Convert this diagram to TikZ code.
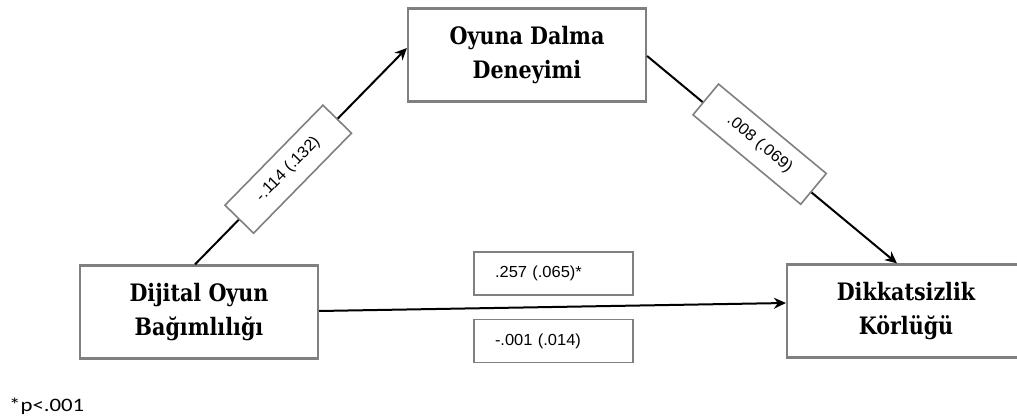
\documentclass[tikz,border=0pt]{standalone}
\usepackage{fontspec}
\usetikzlibrary{arrows.meta}
\newfontfamily\boxfont[FakeStretch=0.86]{DejaVu Serif}
\newfontfamily\labfont[FakeStretch=1.03]{Liberation Sans}
\newfontfamily\notefont[FakeStretch=1.2]{Carlito}
\definecolor{bordergray}{HTML}{808080}
\tikzset{
  varbox/.style={draw=bordergray, line width=2.2pt, fill=white, minimum width=238pt,
    minimum height=93pt, align=center, inner sep=0pt,
    font=\boxfont\bfseries\fontsize{24}{34}\selectfont},
  coefbox/.style={draw=bordergray, line width=1.6pt, fill=white, minimum width=140pt,
    minimum height=40pt, inner sep=0pt, font=\labfont\fontsize{16}{18}\selectfont},
  hbox/.style={coefbox, minimum width=159pt, minimum height=43pt, text width=117pt, align=left},
  path/.style={draw=black, line width=2pt, -{Stealth[length=12pt,width=11pt]}}
}
\begin{document}
\begin{tikzpicture}[x=1pt,y=-1pt]
\useasboundingbox (0,0) rectangle (1017,419);
\clip (0,0) rectangle (1017,419);
\node[varbox] (T) at (527,55) {Oyuna Dalma\\Deneyimi};
\node[varbox] (L) at (199,312) {Dijital Oyun\\Bağımlılığı};
\node[varbox] (R) at (906,311) {Dikkatsizlik\\Körlüğü};
\draw[path] ([xshift=-4pt]L.north) -- node[coefbox, sloped, pos=0.44] (c1) {-.114 (.132)} ([yshift=7pt]T.west);
\draw[path] ([yshift=-1pt]T.east) -- node[coefbox, sloped, pos=0.44, yshift=4pt] (c2) {.008 (.069)} ([xshift=-9pt]R.north);
\draw[path] ([yshift=1pt]L.east) -- ([yshift=8pt]R.west);
\node[hbox] (c3) at (553.5,273.5) {.257 (.065)*};
\node[hbox] (c4) at (553.5,341) {-.001 (.014)};
\node[font=\notefont\fontsize{19}{22}\selectfont, anchor=base west, inner sep=0pt] (note) at (9,411) {*p<.001};
\end{tikzpicture}
\end{document}
